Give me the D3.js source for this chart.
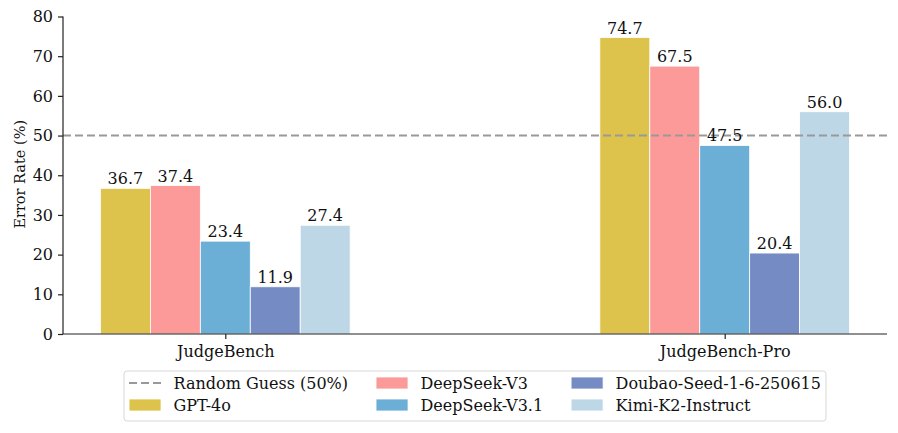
<!DOCTYPE html>
<html>
<head>
<meta charset="utf-8">
<script src="https://cdn.jsdelivr.net/npm/d3@7"></script>
<style>
  body { margin: 0; background: #fff; }
  text { font-family: "DejaVu Serif", serif; fill: #111; }
</style>
</head>
<body>
<div id="container"></div>
<script>
/* DATA */
const benchmarks = ["JudgeBench", "JudgeBench-Pro"];
const models = ["GPT-4o", "DeepSeek-V3", "DeepSeek-V3.1", "Doubao-Seed-1-6-250615", "Kimi-K2-Instruct"];
const gpt4o = [36.7, 74.7];
const deepseekV3 = [37.4, 67.5];
const deepseekV31 = [23.4, 47.5];
const doubao = [11.9, 20.4];
const kimi = [27.4, 56.0];
const randomGuess = 50;
const yTicks = [0, 10, 20, 30, 40, 50, 60, 70, 80];

const seriesValues = [gpt4o, deepseekV3, deepseekV31, doubao, kimi];
const colors = ["#ddc34b", "#fb9a99", "#6baed6", "#758bc4", "#bed7e7"];

/* CONSTANTS */
const width = 898, height = 433;
const margin = { top: 16.5, bottom: 99, left: 63, right: 11 };
const fontSize = 16;

const data = [];
benchmarks.forEach((b, i) => {
  models.forEach((m, j) => data.push({ bench: i, model: j, value: seriesValues[j][i] }));
});

/* SCALES */
const barW = 0.1;
const xScale = d3.scaleLinear()
  .domain([-0.325, 1.325])
  .range([margin.left, width - margin.right]);

const yScale = d3.scaleLinear()
  .domain([0, 80])
  .range([height - margin.bottom, margin.top]);

const svg = d3.select("#container")
  .append("svg")
  .attr("width", width)
  .attr("height", height);

/* BARS */
svg.selectAll("rect.bar")
  .data(data)
  .join("rect")
  .attr("class", "bar")
  .attr("x", d => xScale(d.bench + (d.model - 2.5) * barW))
  .attr("y", d => yScale(d.value))
  .attr("width", d => xScale(barW) - xScale(0))
  .attr("height", d => yScale(0) - yScale(d.value))
  .attr("fill", d => colors[d.model])
  .attr("stroke", "#fff")
  .attr("stroke-width", 0.8);

/* RANDOM GUESS LINE */
svg.append("line")
  .attr("x1", xScale(-0.325))
  .attr("x2", xScale(1.325))
  .attr("y1", yScale(randomGuess))
  .attr("y2", yScale(randomGuess))
  .attr("stroke", "#999")
  .attr("stroke-width", 2)
  .attr("stroke-dasharray", "8,4");

/* VALUE LABELS */
svg.selectAll("text.val")
  .data(data)
  .join("text")
  .attr("class", "val")
  .attr("x", d => xScale(d.bench + (d.model - 2) * barW))
  .attr("y", d => yScale(d.value) - 4)
  .attr("text-anchor", "middle")
  .style("font-size", fontSize + "px")
  .text(d => d.value.toFixed(1));

/* AXES */
const yAxis = d3.axisLeft(yScale).tickValues(yTicks).tickSize(5).tickPadding(5);
const gy = svg.append("g")
  .attr("transform", `translate(${margin.left},0)`)
  .call(yAxis);
gy.select(".domain").attr("stroke", "#222").attr("stroke-width", 1.2).attr("d", `M0,${yScale(80)}V${yScale(0)}`);
gy.selectAll(".tick line").attr("stroke", "#222").attr("stroke-width", 1.2);
gy.selectAll(".tick text").style("font-size", "16px").style("font-family", "DejaVu Serif").attr("fill", "#111");

const xAxis = d3.axisBottom(xScale).tickValues([0, 1]).tickFormat(i => benchmarks[i]).tickSize(5).tickPadding(7);
const gx = svg.append("g")
  .attr("transform", `translate(0,${yScale(0)})`)
  .call(xAxis);
gx.select(".domain").attr("stroke", "#222").attr("stroke-width", 1.2).attr("d", `M${margin.left},0H${width - margin.right}`);
gx.selectAll(".tick line").attr("stroke", "#222").attr("stroke-width", 1.2);
gx.selectAll(".tick text").style("font-size", "16px").style("font-family", "DejaVu Serif").attr("fill", "#111");

svg.append("text")
  .attr("transform", `translate(25,${(yScale(0) + yScale(80)) / 2 - 1}) rotate(-90)`)
  .attr("text-anchor", "middle")
  .style("font-size", "14.5px")
  .text("Error Rate (%)");

/* LEGEND */
const legendItems = [
  { label: "Random Guess (50%)", type: "line" },
  { label: models[0], color: colors[0] },
  { label: models[1], color: colors[1] },
  { label: models[2], color: colors[2] },
  { label: models[3], color: colors[3] },
  { label: models[4], color: colors[4] }
];
const handleW = 32, handleH = 12, textPad = 12.5, colGap = 28, padX = 5, rowH = 22;
const legend = svg.append("g");
const box = legend.append("rect");
const cols = [legendItems.slice(0, 2), legendItems.slice(2, 4), legendItems.slice(4, 6)];
let cx = 0;
cols.forEach(col => {
  const g = legend.append("g").attr("transform", `translate(${cx},0)`);
  let maxW = 0;
  col.forEach((it, r) => {
    const yc = r * rowH;
    if (it.type === "line") {
      g.append("line").attr("x1", 0).attr("x2", handleW).attr("y1", yc).attr("y2", yc)
        .attr("stroke", "#999").attr("stroke-width", 2).attr("stroke-dasharray", "8,4");
    } else {
      g.append("rect").attr("x", 0).attr("y", yc - handleH / 2).attr("width", handleW).attr("height", handleH)
        .attr("fill", it.color).attr("stroke", "#fff").attr("stroke-width", 0.8);
    }
    const t = g.append("text").attr("x", handleW + textPad).attr("y", yc).attr("dy", "0.35em")
      .style("font-size", fontSize + "px").text(it.label);
    maxW = Math.max(maxW, t.node().getComputedTextLength());
  });
  cx += handleW + textPad + maxW + colGap;
});
const legendW = cx - colGap + padX * 2;
const legendX = (margin.left + width - margin.right) / 2 - legendW / 2;
const legendY = 371;
legend.attr("transform", `translate(${legendX + padX},${legendY + 12})`);
box.attr("x", -padX).attr("y", -12).attr("width", legendW).attr("height", 50)
  .attr("rx", 3).attr("fill", "#fff").attr("stroke", "#d8d8d8").attr("stroke-width", 1);
</script>
</body>
</html>
